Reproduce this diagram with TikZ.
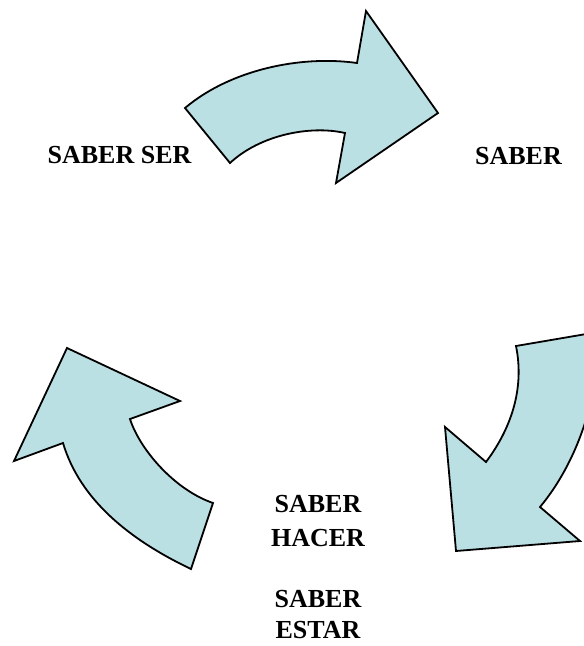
\documentclass[tikz,border=0pt]{standalone}
\usepackage{fontspec}
\setmainfont{Liberation Serif}
\definecolor{arrowfill}{HTML}{BBE0E3}
\begin{document}
\begin{tikzpicture}[x=1pt,y=-1pt,
  bigarrow/.style={fill=arrowfill,draw=black,line width=1.8pt,line join=miter},
  lbl/.style={anchor=base,inner sep=0pt,font=\fontsize{26}{30}\selectfont\bfseries}]
\useasboundingbox (0,0) rectangle (584,646);
\clip (0,0) rectangle (584,646);
% top arrow
\draw[bigarrow] (185,108) .. controls (230,70) and (300,55) .. (357,63)
  -- (366,11) -- (438,113) -- (336,183) -- (345,133)
  .. controls (310,125) and (260,135) .. (230,163) -- cycle;
% right arrow
\draw[bigarrow] (516,346) -- (598,332)
  .. controls (600,400) and (575,465) .. (540,507)
  -- (580,541) -- (456,551) -- (445,427) -- (486,462)
  .. controls (510,430) and (525,390) .. cycle;
% left arrow
\draw[bigarrow] (67,348) -- (180,401) -- (130,419)
  .. controls (140,450) and (175,490) .. (213,503)
  -- (191,569)
  .. controls (130,540) and (80,500) .. (63,443)
  -- (14,461) -- cycle;
% labels
\node[lbl] (ser) at (119.5,163) {SABER SER};
\node[lbl] (saber) at (518.5,164) {SABER};
\node[lbl] (hac1) at (318,512) {SABER};
\node[lbl] (hac2) at (318,546) {HACER};
\node[lbl] (est1) at (318,607) {SABER};
\node[lbl] (est2) at (318,638) {ESTAR};
\end{tikzpicture}
\end{document}
